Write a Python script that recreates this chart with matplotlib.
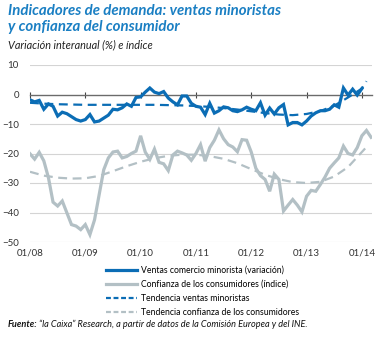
import numpy as np
import matplotlib
matplotlib.use("Agg")
from matplotlib import pyplot as plt
from matplotlib.lines import Line2D

plt.rcParams["font.family"] = ["Lato", "DejaVu Sans"]

# --- datos (mensuales, ene-2008 = índice 0) ---
ventas = [
    -1.8, -2.5, -2.0, -5.0, -3.2, -4.0, -7.3, -6.0, -6.5, -7.5,
    -8.5, -9.0, -8.5, -6.8, -9.3, -9.0, -8.0, -7.0, -5.0, -5.2,
    -4.5, -3.2, -4.0, -1.0, -0.8, 0.8, 2.2, 0.8, 0.3, 1.0,
    -1.2, -2.5, -3.5, -0.5, -0.5, -3.0, -4.0, -4.3, -6.8, -3.0,
    -6.3, -5.5, -4.2, -4.5, -5.5, -5.8, -5.2, -4.3, -5.0, -5.5,
    -2.8, -7.0, -4.6, -6.6, -4.5, -3.4, -10.3, -9.5, -9.5, -10.3,
    -9.0, -7.3, -6.2, -5.5, -5.5, -5.0, -3.5, -4.3, 2.2, -0.2,
    1.8, -0.2, 2.0,
]
confianza = [
    -20.1, -21.9, -19.6, -22.5, -28.2, -36.5, -37.8, -36.1, -40.1, -44.1,
    -44.6, -45.8, -44.1, -47.5, -42.5, -34.0, -25.5, -21.5, -19.5, -19.2,
    -21.5, -21.0, -20.0, -19.2, -14.0, -19.5, -22.0, -18.5, -23.0, -23.5,
    -25.8, -20.5, -19.2, -19.8, -20.5, -22.3, -20.0, -17.0, -22.6, -18.0,
    -15.5, -12.0, -15.0, -17.0, -17.8, -19.4, -15.3, -15.5, -19.5, -25.0,
    -27.5, -28.8, -32.8, -27.0, -28.8, -39.5, -37.5, -35.6, -37.5, -39.8,
    -34.5, -32.5, -32.8, -30.5, -28.0, -25.0, -23.2, -21.5, -17.5, -20.0,
    -20.5, -18.0, -14.0, -12.2, -14.5,
]
# tendencias (puntos trimestrales)
tend_meses = [0, 3, 6, 9, 12, 15, 18, 21, 24, 27, 30, 33, 36, 39, 42, 45,
              48, 51, 54, 57, 60, 63, 66, 69, 72, 73]
tend_ventas = [-2.8, -3.1, -3.3, -3.4, -3.5, -3.5, -3.5, -3.5, -3.5, -3.5,
               -3.6, -3.7, -3.9, -4.2, -4.6, -5.1, -5.7, -6.3, -6.8, -7.0,
               -6.6, -5.6, -3.8, -1.0, 2.0, 4.5]
tend_confianza = [-26.2, -27.5, -28.2, -28.5, -28.4, -27.6, -26.0, -24.3,
                  -22.8, -21.6, -20.8, -20.4, -20.4, -20.9, -21.8, -23.3,
                  -25.3, -27.2, -28.7, -29.7, -30.0, -29.6, -27.8, -24.6,
                  -19.5, -17.8]

year_ticks = [0, 12, 24, 36, 48, 60, 72]
year_labels = ["01/08", "01/09", "01/10", "01/11", "01/12", "01/13", "01/14"]
y_ticks = [10, 0, -10, -20, -30, -40, -50]

legend_labels = [
    "Ventas comercio minorista (variación)",
    "Confianza de los consumidores (índice)",
    "Tendencia ventas minoristas",
    "Tendencia confianza de los consumidores",
]

BLUE = "#0b6db5"
GREY = "#b3c0c5"
TITLE_BLUE = "#1a7fc3"

fig = plt.figure(figsize=(3.85, 3.38), dpi=100)
ax = fig.add_axes([30 / 385, 1 - 242 / 338, 342 / 385, 177 / 338])

ax.plot(np.arange(len(confianza)), confianza, color=GREY, lw=2.3,
        solid_joinstyle="miter", zorder=3)
ax.plot(tend_meses, tend_confianza, color=GREY, lw=1.6, ls=(0, (4, 2.5)), zorder=2)
ax.plot(np.arange(len(ventas)), ventas, color=BLUE, lw=2.3,
        solid_joinstyle="miter", zorder=5)
ax.plot(tend_meses, tend_ventas, color=BLUE, lw=1.6, ls=(0, (4, 2.5)), zorder=4)

ax.set_xlim(0, 74.2)
ax.set_ylim(-50, 10)
for s in ["top", "right", "left"]:
    ax.spines[s].set_visible(False)
ax.spines["bottom"].set_position(("data", 0))
ax.spines["bottom"].set_color("#6b6b6b")
ax.spines["bottom"].set_linewidth(1.0)
ax.set_xticks(year_ticks)
ax.tick_params(axis="x", direction="inout", length=4, width=0.8,
               color="#444444", labelbottom=False)
ax.set_yticks(y_ticks)
ax.tick_params(axis="y", length=0, labelsize=7, labelcolor="#333333", pad=8)
for y in y_ticks:
    if y != 0:
        ax.axhline(y, color="#d4d4d4", lw=0.8, zorder=1)

sec = ax.secondary_xaxis("bottom")
sec.set_xticks(year_ticks)
sec.set_xticklabels(year_labels)
sec.tick_params(length=0, labelsize=7, labelcolor="#333333", pad=5)
sec.spines["bottom"].set_visible(False)

handles = [
    Line2D([], [], color=BLUE, lw=2.3),
    Line2D([], [], color=GREY, lw=2.3),
    Line2D([], [], color=BLUE, lw=1.6, ls=(0, (2.2, 1.2))),
    Line2D([], [], color=GREY, lw=1.6, ls=(0, (2.2, 1.2))),
]
fig.legend(handles, legend_labels, loc="upper left",
           bbox_to_anchor=(106 / 385, 1 - 266 / 338), frameon=False,
           fontsize=6.2, handlelength=3.6, handletextpad=0.5,
           labelspacing=0.58, borderpad=0, borderaxespad=0)

fig.text(8 / 385, 1 - 4 / 338,
         "Indicadores de demanda: ventas minoristas\ny confianza del consumidor",
         ha="left", va="top", fontsize=10.8, fontweight="bold",
         fontstyle="italic", color=TITLE_BLUE, linespacing=1.2)
fig.text(8 / 385, 1 - 39 / 338, "Variación interanual (%) e índice",
         ha="left", va="top", fontsize=7.8, fontstyle="italic", color="#222222")
fig.text(8 / 385, 1 - 320 / 338, "Fuente:", ha="left", va="top",
         fontsize=6.6, fontweight="bold", fontstyle="italic", color="#111111")
fig.text(39 / 385, 1 - 320 / 338,
         "“la Caixa” Research, a partir de datos de la Comisión Europea y del INE.",
         ha="left", va="top", fontsize=6.6, fontstyle="italic", color="#111111")

fig.savefig("out.png", dpi=100)
